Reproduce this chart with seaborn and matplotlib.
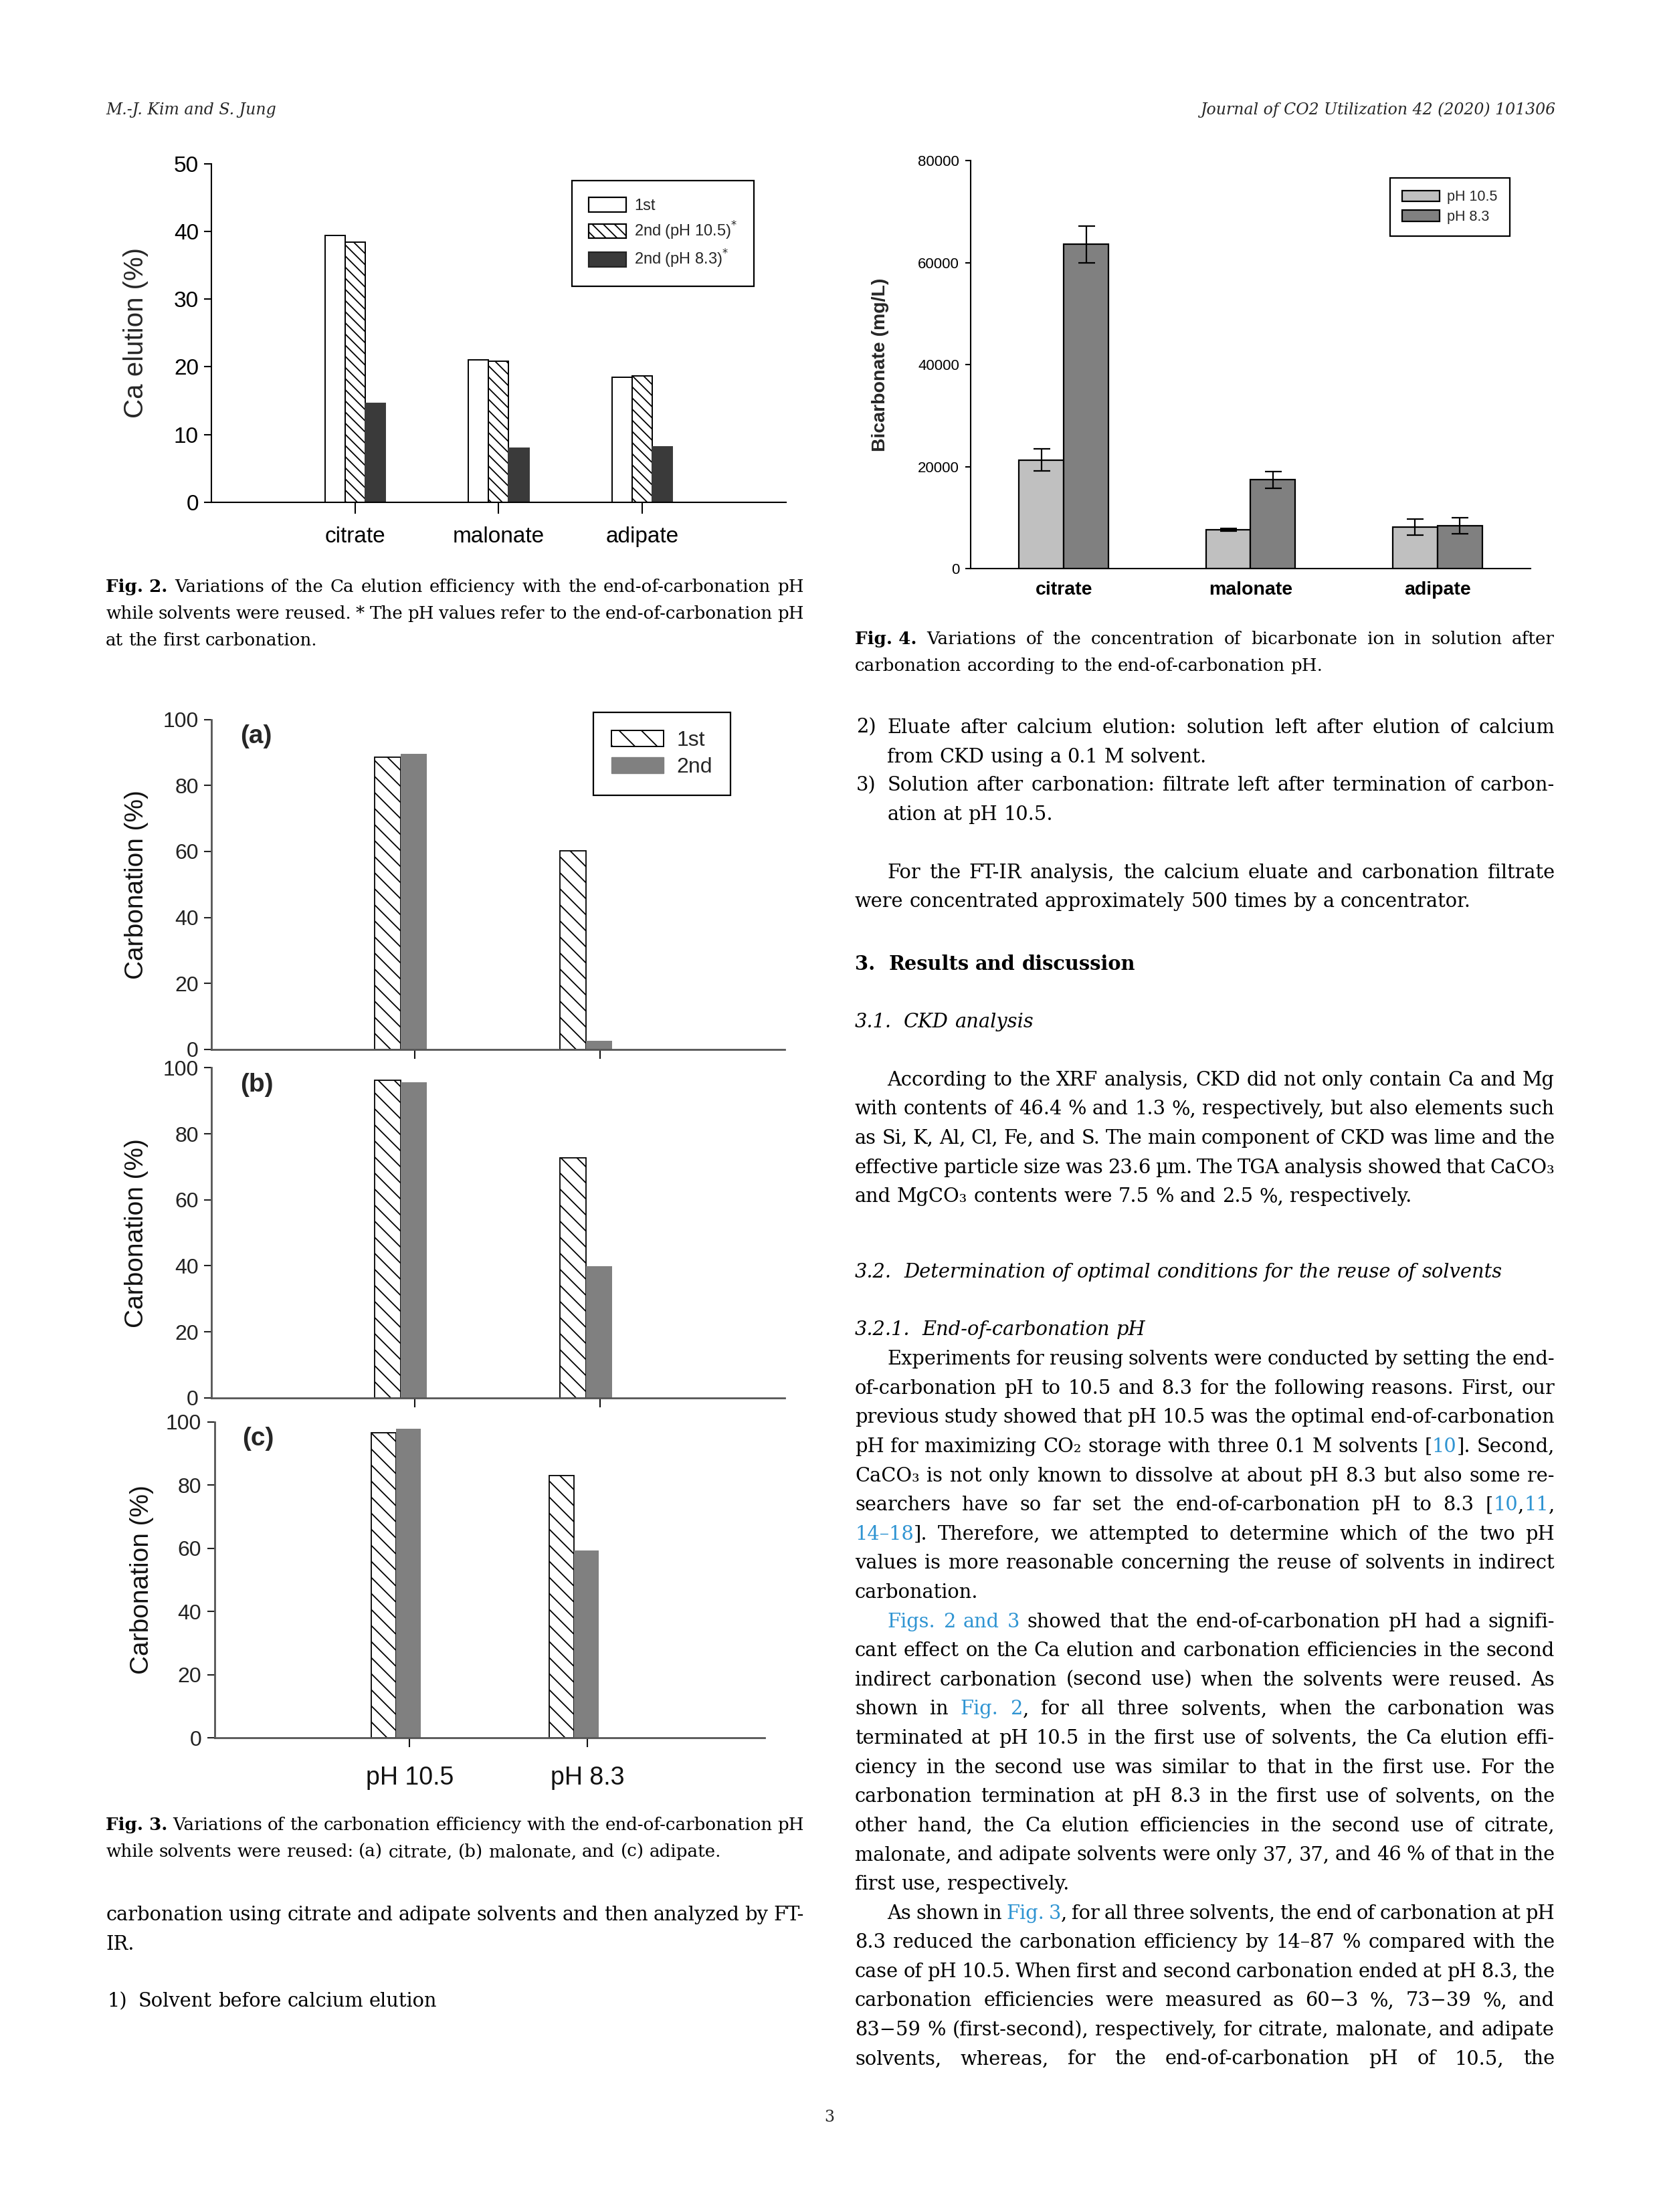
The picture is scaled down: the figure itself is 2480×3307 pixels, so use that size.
import re

import matplotlib.pyplot as plt
import pandas as pd
import seaborn as sns
from matplotlib.collections import LineCollection
from matplotlib.patches import Patch
from matplotlib.transforms import IdentityTransform

W, H = 2480, 3307
S = W / 1176  # layout was measured on the 1176 px wide preview of the page

# Fig. 2 - Ca elution (%)
solvents = ["citrate", "malonate", "adipate"]
fig2_series = ["1st", "2nd (pH 10.5)", "2nd (pH 8.3)"]
fig2_first = [39.4, 21.0, 18.4]
fig2_second_105 = [38.4, 20.8, 18.6]
fig2_second_83 = [14.6, 8.0, 8.2]

# Fig. 3 - carbonation (%)
ph_labels = ["pH 10.5", "pH 8.3"]
fig3_series = ["1st", "2nd"]
panel_tags = ["(a)", "(b)", "(c)"]
citrate_first = [88.6, 60.2]
citrate_second = [89.5, 2.6]
malonate_first = [96.3, 72.8]
malonate_second = [95.6, 39.8]
adipate_first = [96.6, 83.0]
adipate_second = [97.8, 59.2]

# Fig. 4 - bicarbonate (mg/L)
fig4_series = ["pH 10.5", "pH 8.3"]
bicarb_105 = [21300, 7600, 8100]
bicarb_105_err = [2200, 250, 1600]
bicarb_83 = [63600, 17400, 8400]
bicarb_83_err = [3600, 1650, 1600]

sns.set_theme(style="ticks")
plt.rcParams["font.family"] = ["Liberation Sans", "DejaVu Sans"]
plt.rcParams["hatch.linewidth"] = 1.3
plt.rcParams["hatch.color"] = "black"

fig = plt.figure(figsize=(W / 100, H / 100), dpi=100)
fig.patch.set_facecolor("white")
renderer = fig.canvas.get_renderer()


def px_axes(left, top, right, bottom):
    return fig.add_axes([left * S / W, 1 - bottom * S / H,
                         (right - left) * S / W, (bottom - top) * S / H])


def clean_axes(ax, color="black", lw=1.5):
    ax.spines[["top", "right"]].set_visible(False)
    for side in ["left", "bottom"]:
        ax.spines[side].set_color(color)
        ax.spines[side].set_linewidth(lw)
    ax.set_xlabel("")


def sparse_hatch(ax, bar, step=24):
    # wide 45 degree hatching, clipped to the bar
    bb = bar.get_window_extent(renderer)
    segs = []
    y = bb.y0 - bb.width
    while y < bb.y1:
        segs.append([(bb.x0, y + bb.width), (bb.x1, y)])
        y += step
    lc = LineCollection(segs, colors="black", linewidths=1.3,
                        transform=IdentityTransform())
    ax.add_collection(lc, autolim=False)
    lc.set_clip_path(bar)


# ---------------- Fig. 2 ----------------
ax2 = px_axes(150, 116, 557, 356)
df2 = pd.DataFrame({
    "solvent": solvents * 3,
    "series": [s for s in fig2_series for _ in solvents],
    "value": fig2_first + fig2_second_105 + fig2_second_83,
})
sns.barplot(data=df2, x="solvent", y="value", hue="series", hue_order=fig2_series,
            palette=["white", "white", "#3a3a3a"], saturation=1, width=0.42,
            errorbar=None, edgecolor="black", linewidth=1.4, legend=False, ax=ax2)
for bar in ax2.containers[1]:
    bar.set_hatch("\\\\")
for bar in ax2.containers[2]:
    bar.set_edgecolor("#3a3a3a")
ax2.set_xlim(-1, 3)
ax2.set_ylim(0, 50)
ax2.set_yticks(range(0, 51, 10))
clean_axes(ax2)
ax2.set_ylabel("Ca elution (%)", fontsize=29)
ax2.yaxis.set_label_coords(-0.11, 0.5)
ax2.tick_params(axis="x", length=12, width=1.5, pad=14, labelsize=24, colors="black")
ax2.tick_params(axis="y", length=8, width=1.5, pad=6, labelsize=24, colors="black")
h2 = [Patch(facecolor="white", edgecolor="black", lw=1.6),
      Patch(facecolor="white", edgecolor="black", hatch="\\\\", lw=1.6),
      Patch(facecolor="#3a3a3a", edgecolor="#222222", lw=1.6)]
leg2 = ax2.legend(h2, ["1st", "2nd (pH 10.5)$^{*}$", "2nd (pH 8.3)$^{*}$"],
                  loc="upper left", bbox_to_anchor=(855 / W, 1 - 270 / H),
                  bbox_transform=fig.transFigure, borderaxespad=0, fontsize=17,
                  fancybox=False, edgecolor="black", framealpha=1, handlelength=2.4,
                  handleheight=1.05, labelspacing=0.42, borderpad=1.05,
                  handletextpad=0.5)
leg2.get_frame().set_linewidth(1.6)

# ---------------- Fig. 4 ----------------
ax4 = px_axes(688, 114, 1085, 403)
df4 = pd.DataFrame({
    "solvent": solvents * 2,
    "series": [s for s in fig4_series for _ in solvents],
    "value": bicarb_105 + bicarb_83,
})
sns.barplot(data=df4, x="solvent", y="value", hue="series", hue_order=fig4_series,
            palette=["#c0c0c0", "#808080"], saturation=1, width=0.48, errorbar=None,
            edgecolor="black", linewidth=1.6, legend=False, ax=ax4)
for cont, errs in zip(list(ax4.containers)[:2], [bicarb_105_err, bicarb_83_err]):
    xs = [b.get_x() + b.get_width() / 2 for b in cont]
    ys = [b.get_height() for b in cont]
    ax4.errorbar(xs, ys, yerr=errs, fmt="none", ecolor="black", elinewidth=1.6,
                 capsize=9, capthick=1.6)
ax4.set_xlim(-0.5, 2.5)
ax4.set_ylim(0, 80000)
ax4.set_yticks(range(0, 80001, 20000))
clean_axes(ax4)
ax4.set_ylabel("Bicarbonate (mg/L)", fontsize=20.5, weight="bold")
ax4.yaxis.set_label_coords(-0.145, 0.5)
ax4.tick_params(axis="x", length=0, pad=14, labelsize=20.5, colors="black")
for lab in ax4.get_xticklabels():
    lab.set_fontweight("bold")
ax4.tick_params(axis="y", length=6, width=1.5, pad=6, labelsize=16, colors="black")
h4 = [Patch(facecolor="#c0c0c0", edgecolor="black", lw=1.6),
      Patch(facecolor="#808080", edgecolor="black", lw=1.6)]
leg4 = ax4.legend(h4, fig4_series, loc="upper left",
                  bbox_to_anchor=(2078 / W, 1 - 266 / H),
                  bbox_transform=fig.transFigure, borderaxespad=0, fontsize=15.5,
                  fancybox=False, edgecolor="black", framealpha=1, handlelength=2.6,
                  handleheight=0.8, labelspacing=0.4, borderpad=0.85,
                  handletextpad=0.5)
leg4.get_frame().set_linewidth(1.6)

# ---------------- Fig. 3 ----------------
fig3_first = [citrate_first, malonate_first, adipate_first]
fig3_second = [citrate_second, malonate_second, adipate_second]
panel_box = [(150, 510, 556, 744), (150, 757, 556, 991), (152, 1008, 542, 1232)]
for i, tag in enumerate(panel_tags):
    ax = px_axes(*panel_box[i])
    df3 = pd.DataFrame({
        "ph": ph_labels * 2,
        "series": [s for s in fig3_series for _ in ph_labels],
        "value": fig3_first[i] + fig3_second[i],
    })
    sns.barplot(data=df3, x="ph", y="value", hue="series", hue_order=fig3_series,
                palette=["white", "#808080"], saturation=1, width=0.28, errorbar=None,
                linewidth=0, legend=False, ax=ax)
    ax.set_xlim(-1.02, 2.07)
    ax.set_ylim(0, 100)
    for bar in ax.containers[0]:
        bar.set_edgecolor("black")
        bar.set_linewidth(1.3)
        sparse_hatch(ax, bar)
    ax.set_yticks(range(0, 101, 20))
    ax.set_xticks([0.076, 1.076])
    ax.set_xticklabels(ph_labels if i == 2 else ["", ""])
    clean_axes(ax, color="#555555", lw=2)
    ax.set_ylabel("Carbonation (%)", fontsize=28, color="#111111")
    ax.yaxis.set_label_coords(-0.11, 0.5)
    ax.tick_params(axis="x", length=10, width=1.5, pad=20, labelsize=27, colors="#111111")
    ax.tick_params(axis="y", length=8, width=1.5, pad=6, labelsize=23, colors="#222222")
    ax.text(0.05, 0.985, tag, transform=ax.transAxes, fontsize=28, weight="bold",
            va="top", ha="left")
    if i == 0:
        h3 = [Patch(facecolor="white", edgecolor="black", hatch="\\", lw=1.4),
              Patch(facecolor="#808080", edgecolor="#808080")]
        leg3 = ax.legend(h3, fig3_series, loc="upper left",
                         bbox_to_anchor=(887 / W, 1 - 1065 / H),
                         bbox_transform=fig.transFigure, borderaxespad=0,
                         fontsize=23, fancybox=False, edgecolor="black", framealpha=1,
                         handlelength=2.44, handleheight=0.78, labelspacing=0.3,
                         borderpad=0.85, handletextpad=0.6)
        leg3.get_frame().set_linewidth(1.6)

# ---------------- page text ----------------
SERIF = ["DejaVu Serif"]
LINK = "#2f94d2"
TOKEN = re.compile(r"\{([bBi]):([^}]*)\}|([^{]+)")
BODY = 20.8
CAP = 18.8
_space = {}


def piece(s, tag, size, base):
    kw = {"fontsize": size, "family": SERIF, "va": "baseline", "ha": "left",
          "color": "black"}
    tags = base + tag
    if "B" in tags:
        kw["weight"] = "bold"
    if "i" in tags:
        kw["style"] = "italic"
    if "b" in tags:
        kw["color"] = LINK
    t = fig.text(0, 0, s, **kw)
    return t, t.get_window_extent(renderer).width


def space_width(size, base):
    if (size, base) not in _space:
        a, wa = piece("n n", "", size, base)
        b, wb = piece("nn", "", size, base)
        _space[(size, base)] = wa - wb
        a.remove()
        b.remove()
    return _space[(size, base)]


def write(x0, x1, y, text, size=BODY, justify=True, base=""):
    # x0, x1 and y (middle of the line) are preview pixels
    x0, x1, yb = x0 * S, x1 * S, (y + 4.5) * S
    words = []
    for w in text.split(" "):
        parts = []
        for m in TOKEN.finditer(w):
            if m.group(3) is not None:
                parts.append(piece(m.group(3), "", size, base))
            else:
                parts.append(piece(m.group(2), m.group(1), size, base))
        words.append(parts)
    widths = [sum(p[1] for p in parts) for parts in words]
    gap = space_width(size, base)
    if justify and len(words) > 1:
        gap = (x1 - x0 - sum(widths)) / (len(words) - 1)
    x = x0
    for parts, w in zip(words, widths):
        for t, pw in parts:
            t.set_position((x / W, 1 - yb / H))
            x += pw
        x += gap


def block(x0, x1, y0, lines, size=BODY, step=20.67, indent=23):
    # lines: (text, justify, first-line indent)
    for k, (text, just, ind) in enumerate(lines):
        write(x0 + (indent if ind else 0), x1, y0 + k * step, text, size, just)


LX0, LX1 = 75, 570
RX0, RX1 = 606, 1102

fig.text(LX0 * S / W, 1 - 81 * S / H, "M.-J. Kim and S. Jung", fontsize=17,
         family=SERIF, style="italic", va="baseline")
fig.text(1103 * S / W, 1 - 81 * S / H, "Journal of CO2 Utilization 42 (2020) 101306",
         fontsize=17, family=SERIF, style="italic", va="baseline", ha="right")
fig.text(588 * S / W, 1 - 1504 * S / H, "3", fontsize=17, family=SERIF,
         va="baseline", ha="center")

block(LX0, LX1, 415, [
    ("{B:Fig.\u00a02.} Variations of the Ca elution efficiency with the end-of-carbonation pH", True, False),
    ("while solvents were reused. * The pH values refer to the end-of-carbonation pH", True, False),
    ("at the first carbonation.", False, False),
], size=CAP, step=19)
block(RX0, RX1, 452, [
    ("{B:Fig.\u00a04.} Variations of the concentration of bicarbonate ion in solution after", True, False),
    ("carbonation according to the end-of-carbonation pH.", False, False),
], size=CAP, step=19)
block(LX0, LX1, 1293, [
    ("{B:Fig.\u00a03.} Variations of the carbonation efficiency with the end-of-carbonation pH", True, False),
    ("while solvents were reused: (a) citrate, (b) malonate, and (c) adipate.", False, False),
], size=CAP, step=19)

block(LX0, LX1, 1357, [
    ("carbonation using citrate and adipate solvents and then analyzed by FT-", True, False),
    ("IR.", False, False),
])
write(LX0 + 1, LX0 + 20, 1418, "1)", justify=False)
write(LX0 + 23, LX1, 1418, "Solvent before calcium elution", justify=False)

write(RX0 + 1, RX0 + 20, 515, "2)", justify=False)
write(RX0 + 23, RX1, 515, "Eluate after calcium elution: solution left after elution of calcium")
write(RX0 + 23, RX1, 536, "from CKD using a 0.1 M solvent.", justify=False)
write(RX0 + 1, RX0 + 20, 556, "3)", justify=False)
write(RX0 + 23, RX1, 556, "Solution after carbonation: filtrate left after termination of carbon-")
write(RX0 + 23, RX1, 577, "ation at pH 10.5.", justify=False)

block(RX0, RX1, 618, [
    ("For the FT-IR analysis, the calcium eluate and carbonation filtrate", True, True),
    ("were concentrated approximately 500 times by a concentrator.", False, False),
])
write(RX0, RX1, 683, "3.  Results and discussion", justify=False, base="B")
write(RX0, RX1, 724, "3.1.  CKD analysis", justify=False, base="i")
block(RX0, RX1, 765, [
    ("According to the XRF analysis, CKD did not only contain Ca and Mg", True, True),
    ("with contents of 46.4 % and 1.3 %, respectively, but also elements such", True, False),
    ("as Si, K, Al, Cl, Fe, and S. The main component of CKD was lime and the", True, False),
    ("effective particle size was 23.6 µm. The TGA analysis showed that CaCO₃", True, False),
    ("and MgCO₃ contents were 7.5 % and 2.5 %, respectively.", False, False),
])
write(RX0, RX1, 901, "3.2.  Determination of optimal conditions for the reuse of solvents",
      justify=False, base="i")
write(RX0, RX1, 942, "3.2.1.  End-of-carbonation pH", justify=False, base="i")
block(RX0, RX1, 963, [
    ("Experiments for reusing solvents were conducted by setting the end-", True, True),
    ("of-carbonation pH to 10.5 and 8.3 for the following reasons. First, our", True, False),
    ("previous study showed that pH 10.5 was the optimal end-of-carbonation", True, False),
    ("pH for maximizing CO₂ storage with three 0.1 M solvents [{b:10}]. Second,", True, False),
    ("CaCO₃ is not only known to dissolve at about pH 8.3 but also some re-", True, False),
    ("searchers have so far set the end-of-carbonation pH to 8.3 [{b:10},{b:11},", True, False),
    ("{b:14–18}]. Therefore, we attempted to determine which of the two pH", True, False),
    ("values is more reasonable concerning the reuse of solvents in indirect", True, False),
    ("carbonation.", False, False),
    ("{b:Figs.} {b:2} {b:and} {b:3} showed that the end-of-carbonation pH had a signifi-", True, True),
    ("cant effect on the Ca elution and carbonation efficiencies in the second", True, False),
    ("indirect carbonation (second use) when the solvents were reused. As", True, False),
    ("shown in {b:Fig.} {b:2}, for all three solvents, when the carbonation was", True, False),
    ("terminated at pH 10.5 in the first use of solvents, the Ca elution effi-", True, False),
    ("ciency in the second use was similar to that in the first use. For the", True, False),
    ("carbonation termination at pH 8.3 in the first use of solvents, on the", True, False),
    ("other hand, the Ca elution efficiencies in the second use of citrate,", True, False),
    ("malonate, and adipate solvents were only 37, 37, and 46 % of that in the", True, False),
    ("first use, respectively.", False, False),
    ("As shown in {b:Fig.} {b:3}, for all three solvents, the end of carbonation at pH", True, True),
    ("8.3 reduced the carbonation efficiency by 14–87 % compared with the", True, False),
    ("case of pH 10.5. When first and second carbonation ended at pH 8.3, the", True, False),
    ("carbonation efficiencies were measured as 60−3 %, 73−39 %, and", True, False),
    ("83−59 % (first-second), respectively, for citrate, malonate, and adipate", True, False),
    ("solvents, whereas, for the end-of-carbonation pH of 10.5, the", True, False),
])

fig.savefig("out.png", dpi=100, facecolor="white")
